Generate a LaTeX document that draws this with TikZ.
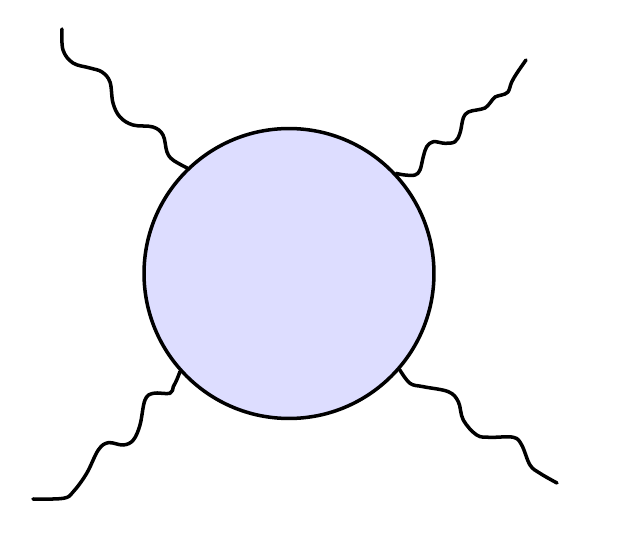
\documentclass[tikz,border=0pt]{standalone}
\definecolor{blobfill}{RGB}{221,221,255}
\begin{document}
\begin{tikzpicture}[x=0.02cm,y=-0.02cm,
  blob/.style={circle,draw=black,fill=blobfill,line width=2pt,minimum size=5.8cm,inner sep=0pt},
  wave/.style={line width=2pt,line cap=round,line join=round}]
\useasboundingbox (0,0) rectangle (627,548);
\node[blob] (c) at (289,273.5) {};
\coordinate (ul) at (62,29);
\coordinate (ur) at (526,60);
\coordinate (ll) at (33,499);
\coordinate (lr) at (557,483);
\draw[wave] plot[smooth,tension=0.6] coordinates {(ul) (63,50) (73,63) (90,68) (102,72) (110,82) (113,103) (120,117) (133,125) (153,127) (163,135) (167,152) (173,160) (c.134.3)};
\draw[wave] plot[smooth,tension=0.6] coordinates {(ur) (517,73) (511.7,82) (508,92) (501.7,95) (495,97) (490,103) (485,108) (476.7,110) (468.3,112) (463.3,118) (460,133) (455,141.7) (445,143.3) (433.3,141.7) (426.7,146.7) (423.3,156.7) (420,170) (415,175) (405,175) (c.43.8)};
\draw[wave] plot[smooth,tension=0.6] coordinates {(ll) (63.3,498.3) (73.3,491.7) (86.7,473.3) (98.3,450) (108.3,442.7) (123.3,445) (133.3,440) (140,425) (145,400) (153.3,393.3) (170,393.3) (173.3,386.7) (176.7,380) (c.222.6)};
\draw[wave] plot[smooth,tension=0.6] coordinates {(lr) (540,473.3) (530,465) (521.7,445) (513.3,437.3) (490,437.3) (476.7,435) (463.3,420) (458.3,401.7) (448.3,391.7) (423.3,386.7) (410,383.3) (c.319.4)};
\end{tikzpicture}
\end{document}
